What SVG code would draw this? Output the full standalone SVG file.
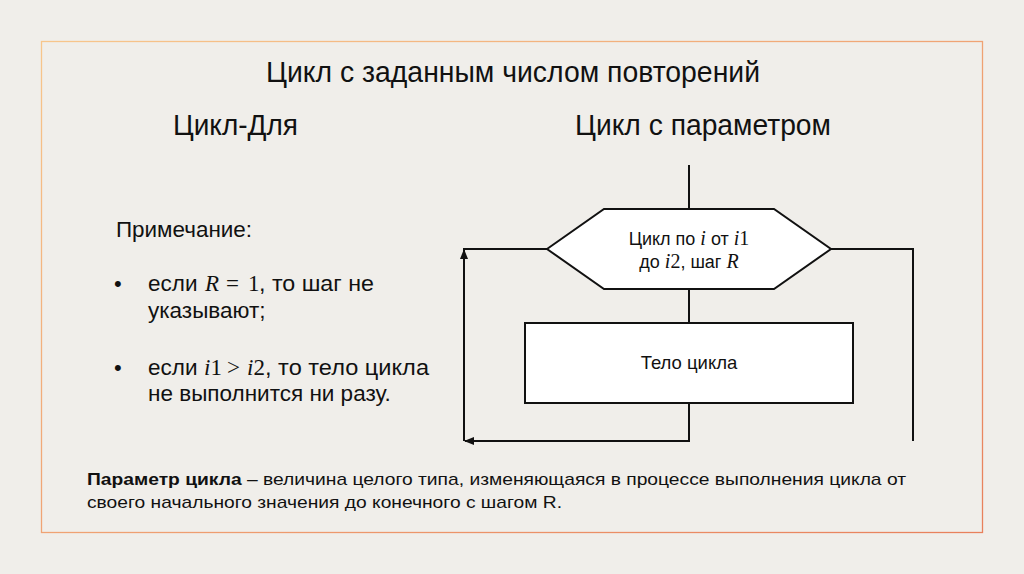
<svg xmlns="http://www.w3.org/2000/svg" width="1024" height="574" viewBox="0 0 1024 574">
<style>
.sans{font-family:"Liberation Sans",Arial,sans-serif;fill:#111}
.m{font-family:"Liberation Serif","DejaVu Serif",serif;font-style:italic}
.mu{font-family:"Liberation Serif","DejaVu Serif",serif}
.ln{fill:none;stroke:#111;stroke-width:2}
.shape{fill:#fff;stroke:#111;stroke-width:2}
</style>
<defs>
<linearGradient id="bd" x1="0" y1="0" x2="1" y2="1">
<stop offset="0" stop-color="#f7c68c"/>
<stop offset="1" stop-color="#e8805c"/>
</linearGradient>
<marker id="ah" viewBox="0 0 10 10" refX="9" refY="5" markerWidth="10" markerHeight="10" markerUnits="userSpaceOnUse" orient="auto">
<path d="M0,1 L10,5 L0,9 z" fill="#111"/>
</marker>
</defs>
<rect width="1024" height="574" fill="#f0eeea"/>
<rect x="41.5" y="41.5" width="941" height="491" fill="none" stroke="url(#bd)" stroke-width="1.3"/>

<text class="sans" x="266" y="82" font-size="29" textLength="494" lengthAdjust="spacingAndGlyphs">Цикл с заданным числом повторений</text>
<text class="sans" x="173" y="135" font-size="29" textLength="125" lengthAdjust="spacingAndGlyphs">Цикл-Для</text>
<text class="sans" x="575" y="135" font-size="29" textLength="256" lengthAdjust="spacingAndGlyphs">Цикл с параметром</text>

<g id="note">
<text class="sans" x="116" y="237" font-size="22" textLength="136" lengthAdjust="spacingAndGlyphs">Примечание:</text>
<text class="sans" x="114" y="291" font-size="22">•</text>
<text class="sans" y="291" font-size="22.5"><tspan x="148">если</tspan><tspan class="m" x="205" font-size="23">R</tspan><tspan class="mu" x="226" font-size="23">=</tspan><tspan class="mu" x="248" font-size="23">1</tspan><tspan x="259" textLength="115" lengthAdjust="spacingAndGlyphs">, то шаг не</tspan></text>
<text class="sans" x="148" y="318" font-size="22.5">указывают;</text>
<text class="sans" x="114" y="375" font-size="22">•</text>
<text class="sans" y="375" font-size="22.5"><tspan x="148">если</tspan><tspan class="m" x="204" font-size="23">i</tspan><tspan class="mu" font-size="23">1</tspan><tspan class="mu" x="227" font-size="23">&gt;</tspan><tspan class="m" x="247" font-size="23">i</tspan><tspan class="mu" font-size="23">2</tspan><tspan x="265" textLength="164" lengthAdjust="spacingAndGlyphs">, то тело цикла</tspan></text>
<text class="sans" x="148" y="401" font-size="22.5">не выполнится ни разу.</text>
</g>

<g id="connectors">
<line class="ln" x1="689" y1="165" x2="689" y2="209"/>
<line class="ln" x1="689" y1="289" x2="689" y2="323"/>
<polyline class="ln" points="689,403 689,441 465,441" marker-end="url(#ah)"/>
<polyline class="ln" points="464,441 464,250" marker-end="url(#ah)"/>
<line class="ln" x1="463" y1="249" x2="547" y2="249"/>
<polyline class="ln" points="831,249 913,249 913,441"/>
</g>

<g id="loop">
<polygon class="shape" points="547,249 604,209 774,209 831,249 774,289 604,289"/>
<text class="sans" y="245" font-size="18" text-anchor="middle"><tspan x="689">Цикл по </tspan><tspan class="m" font-size="20">i</tspan><tspan> от </tspan><tspan class="m" font-size="20">i</tspan><tspan class="mu" font-size="20">1</tspan></text>
<text class="sans" y="268" font-size="18" text-anchor="middle"><tspan x="689">до </tspan><tspan class="m" font-size="20">i</tspan><tspan class="mu" font-size="20">2</tspan><tspan>, шаг </tspan><tspan class="m" font-size="20">R</tspan></text>
</g>

<g id="body">
<rect class="shape" x="525" y="323" width="328" height="80"/>
<text class="sans" x="689" y="369" font-size="18.5" text-anchor="middle">Тело цикла</text>
</g>

<g id="definition">
<text class="sans" x="87" y="485" font-size="17" textLength="819" lengthAdjust="spacingAndGlyphs"><tspan font-weight="bold">Параметр цикла</tspan> – величина целого типа, изменяющаяся в процессе выполнения цикла от</text>
<text class="sans" x="87" y="508" font-size="17" textLength="475" lengthAdjust="spacingAndGlyphs">своего начального значения до конечного с шагом R.</text>
</g>
</svg>
